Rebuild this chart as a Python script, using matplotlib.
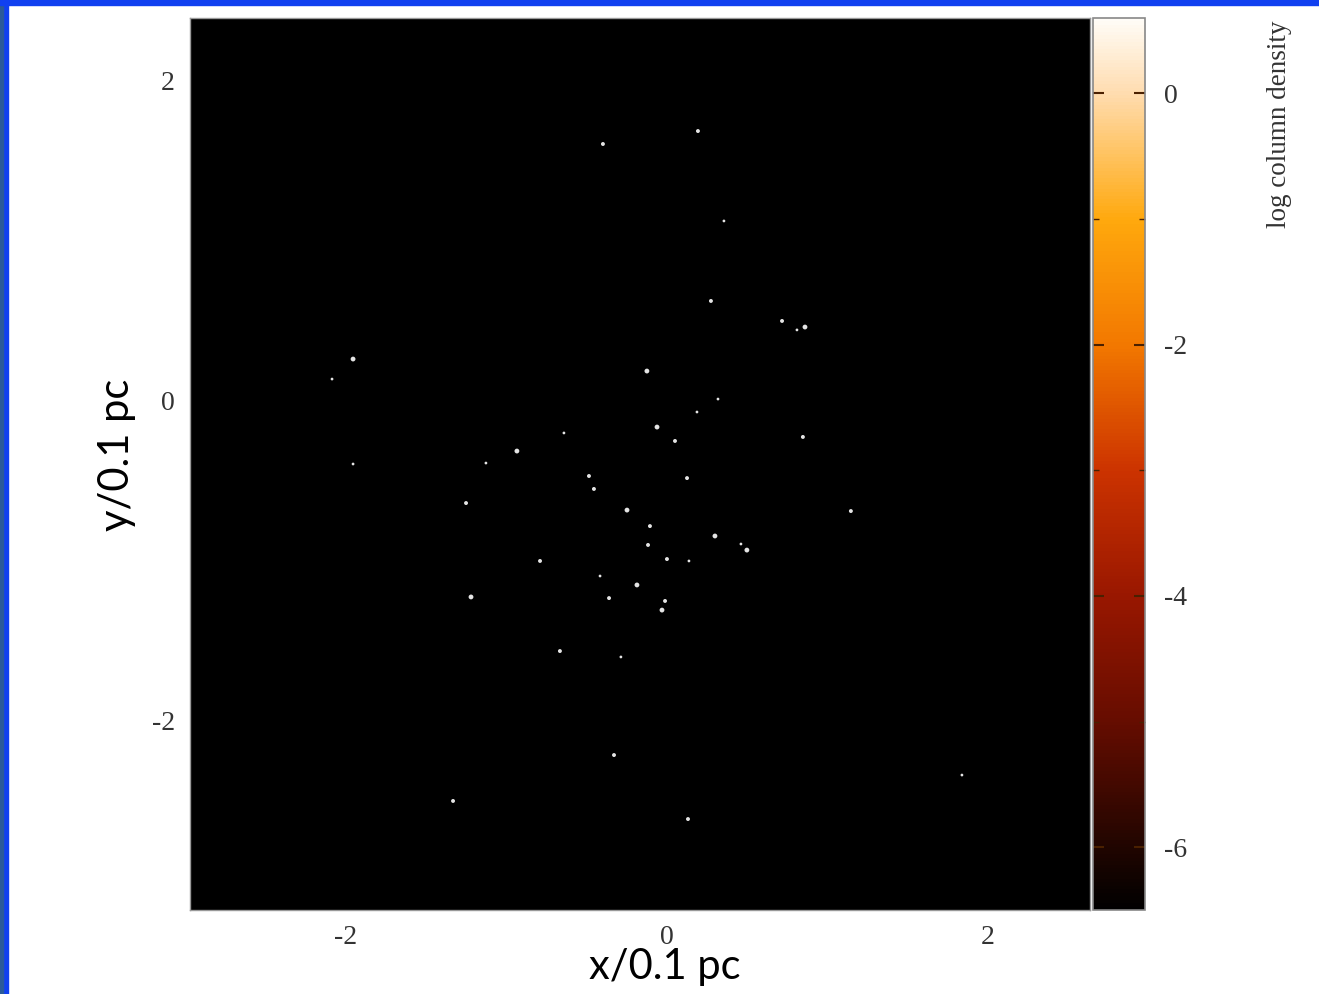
import numpy as np
import matplotlib
matplotlib.use("Agg")
import matplotlib.pyplot as plt
from matplotlib.colors import LinearSegmentedColormap, Normalize
from matplotlib.cm import ScalarMappable
from matplotlib.patches import Rectangle

plt.rcParams['axes.unicode_minus'] = False

# positions of the sink particles (units of 0.1 pc)
star_x = [0.193, -0.399, 0.355, 0.274, 0.717, 0.810, 0.860, -1.956, -2.087, -0.125,
          0.318, 0.187, -0.062, 0.847, -0.642, 0.050, -0.935, -1.128, -1.956, -0.486,
          -0.455, 0.125, -1.252, -0.249, 1.146, -0.106, 0.299, -0.118, 0.461, 0.498,
          0.000, 0.137, -0.791, -0.417, -0.187, -1.221, -0.361, -0.012, -0.031, -0.667,
          -0.287, -0.330, 1.838, -1.333, 0.131]
star_y = [1.681, 1.600, 1.119, 0.619, 0.494, 0.438, 0.456, 0.256, 0.131, 0.181,
          0.006, -0.075, -0.169, -0.231, -0.206, -0.256, -0.319, -0.394, -0.400, -0.475,
          -0.556, -0.488, -0.644, -0.688, -0.694, -0.788, -0.850, -0.906, -0.900, -0.938,
          -0.994, -1.006, -1.006, -1.100, -1.156, -1.231, -1.238, -1.256, -1.313, -1.569,
          -1.606, -2.219, -2.344, -2.506, -2.619]
# relative brightness of each spot
star_mass = [2, 2, 1, 2, 2, 1, 3, 3, 1, 3,
             1, 1, 3, 2, 1, 2, 3, 1, 1, 2,
             2, 2, 2, 3, 2, 2, 3, 2, 1, 3,
             2, 1, 2, 1, 3, 3, 2, 2, 3, 2,
             1, 2, 1, 2, 2]

# colour scale
cbar_min, cbar_max = -6.5, 0.6
cbar_ticks = [-6, -4, -2, 0]
cbar_minor = [-5, -3, -1]
x_ticks = [-2, 0, 2]
y_ticks = [-2, 0, 2]

cmap_levels = [-6.5, -6.0, -5.0, -4.0, -3.0, -2.0, -1.0, 0.0, 0.6]
cmap_colors = [(0, 0, 0), (0.13, 0.02, 0.0), (0.40, 0.05, 0.0), (0.60, 0.09, 0.0),
               (0.80, 0.20, 0.0), (0.95, 0.47, 0.0), (1.0, 0.66, 0.05),
               (1.0, 0.86, 0.68), (1.0, 0.99, 0.97)]
pos = [(v - cbar_min) / (cbar_max - cbar_min) for v in cmap_levels]
cmap = LinearSegmentedColormap.from_list("coldens", list(zip(pos, cmap_colors)))

fig = plt.figure(figsize=(13.19, 9.94), dpi=100)

# blue slide border
fig.patches.append(Rectangle((0, 0), 8 / 1319, 1, transform=fig.transFigure,
                             color='#1040f0', zorder=-1))
fig.patches.append(Rectangle((0, 0), 3 / 1319, 1, transform=fig.transFigure,
                             color='#2a5a9a', zorder=-1))
fig.patches.append(Rectangle((0, 1 - 5 / 994), 1, 5 / 994, transform=fig.transFigure,
                             color='#1040f0', zorder=-1))

ax = fig.add_axes([190 / 1319, 1 - 910 / 994, 900 / 1319, 892 / 994])
ax.set_facecolor('black')
sizes = [4 + 4 * (m - 1) for m in star_mass]
ax.scatter(star_x, star_y, s=sizes, c='#e4e4e4', edgecolors='none')
ax.set_xlim(-2.972, 2.636)
ax.set_ylim(-3.1875, 2.3875)
ax.set_xticks(x_ticks)
ax.set_yticks(y_ticks)
ax.tick_params(direction='in', color='black', labelsize=20, pad=11,
               labelcolor='#333333', top=True, right=True)
for lab in ax.get_xticklabels() + ax.get_yticklabels():
    lab.set_family('Liberation Serif')
for sp in ax.spines.values():
    sp.set_color('#999999')
    sp.set_linewidth(1)

cax = fig.add_axes([1093 / 1319, 1 - 910 / 994, 52 / 1319, 892 / 994])
sm = ScalarMappable(norm=Normalize(cbar_min, cbar_max), cmap=cmap)
cb = fig.colorbar(sm, cax=cax)
cb.set_ticks(cbar_ticks)
cax.set_yticks(cbar_minor, minor=True)
cax.tick_params(which='major', direction='in', left=True, right=True, length=8,
                width=1.5, color='#4a2000', labelsize=20, pad=14, labelcolor='#333333')
cax.tick_params(which='minor', direction='in', left=True, right=True, length=4,
                width=1, color='#4a2000')
for lab in cax.get_yticklabels():
    lab.set_family('Liberation Serif')
cb.outline.set_edgecolor('#888888')
cb.outline.set_linewidth(1.2)

fig.text(1279 / 1319, 1 - 20 / 994, 'log column density', rotation=90,
         ha='center', va='top', fontsize=19.5, family='Liberation Serif', color='#333333')
fig.text(665 / 1319, 1 - 967 / 994, 'x/0.1 pc', ha='center', va='center',
         fontsize=30, family='Lato')
fig.text(117 / 1319, 1 - 455 / 994, 'y/0.1 pc', ha='center', va='center',
         rotation=90, fontsize=30, family='Lato')

fig.savefig('out.png', dpi=100, facecolor='white')
